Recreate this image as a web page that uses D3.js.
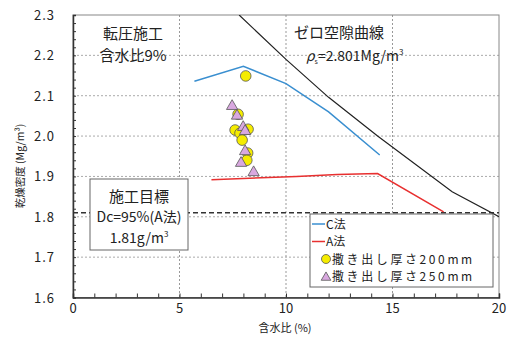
<!DOCTYPE html>
<html>
<head>
<meta charset="utf-8">
<script src="https://cdn.jsdelivr.net/npm/d3@7/dist/d3.min.js"></script>
<style>
  body { margin: 0; background: #fff; }
  svg text { font-family: "Noto Sans CJK JP", "Noto Sans", sans-serif; fill: #222; }
</style>
</head>
<body>
<svg id="chart" width="518" height="338"></svg>
<script>
// Compaction curves (water content %, dry density Mg/m3)
const cMethodW = [5.7, 8.0, 10.0, 12.0, 14.4];
const cMethodRho = [2.136, 2.173, 2.130, 2.060, 1.953];
const aMethodW = [6.5, 10.5, 12.4, 14.3, 17.4];
const aMethodRho = [1.892, 1.900, 1.905, 1.907, 1.812];
// Zero air void curve, rho_s = 2.801
const zavW = [7.8, 10.0, 12.0, 14.3, 17.8, 20.0];
const zavRho = [2.300, 2.190, 2.096, 2.000, 1.862, 1.800];
// Field measurements
const lift200W = [8.11, 7.75, 7.61, 7.84, 8.22, 7.94, 8.20, 8.16];
const lift200Rho = [2.149, 2.054, 2.015, 2.007, 2.017, 1.990, 1.958, 1.940];
const lift250W = [7.47, 7.70, 7.99, 8.08, 8.08, 7.89, 8.48];
const lift250Rho = [2.074, 2.050, 2.022, 2.012, 1.962, 1.933, 1.910];
// Target density
const targetRho = 1.81;
const xTicks = [0, 5, 10, 15, 20];
const yTicks = [1.6, 1.7, 1.8, 1.9, 2.0, 2.1, 2.2, 2.3];
const legendLabels = ["C法", "A法", "撒き出し厚さ200mm", "撒き出し厚さ250mm"];

const svg = d3.select("#chart");
const x = d3.scaleLinear().domain([0, 20]).range([73, 499]);
const y = d3.scaleLinear().domain([1.6, 2.3]).range([297.5, 15]);

svg.append("defs").append("clipPath").attr("id", "plotClip")
  .append("rect").attr("x", 73).attr("y", 15).attr("width", 426).attr("height", 282.5);

// grid
const grid = svg.append("g");
grid.selectAll("line.gy").data([1.7, 1.8, 1.9, 2.0, 2.1, 2.2]).join("line")
  .attr("x1", 73).attr("x2", 499).attr("y1", d => y(d)).attr("y2", d => y(d))
  .attr("stroke", "#aaa").attr("stroke-width", 1).attr("stroke-dasharray", "2,2");
grid.selectAll("line.gx").data([5, 10, 15]).join("line")
  .attr("y1", 15).attr("y2", 297.5).attr("x1", d => x(d)).attr("x2", d => x(d))
  .attr("stroke", "#999").attr("stroke-width", 1).attr("stroke-dasharray", "2,2");

// frame
svg.append("rect").attr("x", 73).attr("y", 15).attr("width", 426).attr("height", 282.5)
  .attr("fill", "none").attr("stroke", "#888").attr("stroke-width", 1);

// axes
const xAxis = svg.append("g").attr("transform", "translate(0,297.5)")
  .call(d3.axisBottom(x).tickValues(d3.range(0, 20.01, 1)).tickSize(-4).tickFormat(""));
const yAxis = svg.append("g").attr("transform", "translate(73,0)")
  .call(d3.axisLeft(y).tickValues(d3.range(1.6, 2.301, 0.02)).tickSize(-3).tickFormat(""));
[xAxis, yAxis].forEach(a => {
  a.select(".domain").attr("stroke", "#333").attr("stroke-width", 1.5);
  a.selectAll(".tick line").attr("stroke", "#333");
});

svg.append("g").selectAll("text").data(xTicks).join("text")
  .attr("x", d => x(d)).attr("y", 313).attr("text-anchor", "middle")
  .attr("font-size", 13).text(d => d);
svg.append("g").selectAll("text").data(yTicks).join("text")
  .attr("x", 55).attr("y", d => y(d) + 5).attr("text-anchor", "end")
  .attr("font-size", 13).attr("letter-spacing", 1).text(d => d.toFixed(1));

svg.append("text").attr("x", 285).attr("y", 332).attr("text-anchor", "middle")
  .attr("font-size", 11).text("含水比 (%)");
svg.append("text").attr("transform", "translate(24,166) rotate(-90)")
  .attr("text-anchor", "middle").attr("font-size", 10.5).text("乾燥密度 (Mg/m³)");

const plot = svg.append("g").attr("clip-path", "url(#plotClip)");
const line = d3.line().x(d => x(d[0])).y(d => y(d[1]));

// target line
plot.append("line").attr("x1", 73).attr("x2", 499)
  .attr("y1", y(targetRho)).attr("y2", y(targetRho))
  .attr("stroke", "#333").attr("stroke-width", 1.5).attr("stroke-dasharray", "5,3");

plot.append("path").datum(d3.zip(zavW, zavRho)).attr("d", line)
  .attr("fill", "none").attr("stroke", "#222").attr("stroke-width", 1.2);
plot.append("path").datum(d3.zip(cMethodW, cMethodRho)).attr("d", line)
  .attr("fill", "none").attr("stroke", "#3a8fd0").attr("stroke-width", 1.5);
plot.append("path").datum(d3.zip(aMethodW, aMethodRho)).attr("d", line)
  .attr("fill", "none").attr("stroke", "#e83030").attr("stroke-width", 1.5);

const tri = d3.symbol().type(d3.symbolTriangle).size(55);
plot.selectAll("circle.p200").data(d3.zip(lift200W, lift200Rho)).join("circle")
  .attr("cx", d => x(d[0])).attr("cy", d => y(d[1])).attr("r", 5.3)
  .attr("fill", "#f5ec00").attr("stroke", "#555").attr("stroke-width", 0.8);
plot.selectAll("path.p250").data(d3.zip(lift250W, lift250Rho)).join("path")
  .attr("transform", d => `translate(${x(d[0])},${y(d[1])})`).attr("d", tri)
  .attr("fill", "#d9a8e0").attr("stroke", "#555").attr("stroke-width", 0.8);

// annotations
svg.append("text").attr("x", 133).attr("y", 39).attr("text-anchor", "middle")
  .attr("font-size", 15).text("転圧施工");
svg.append("text").attr("x", 133).attr("y", 61).attr("text-anchor", "middle")
  .attr("font-size", 15).text("含水比9%");
svg.append("text").attr("x", 294).attr("y", 38).attr("font-size", 15).text("ゼロ空隙曲線");
const rhoText = svg.append("text").attr("x", 306).attr("y", 61).attr("font-size", 14);
rhoText.append("tspan").attr("font-style", "italic").text("ρ");
rhoText.append("tspan").attr("font-size", 7).attr("dy", 3).text("s");
rhoText.append("tspan").attr("dy", -3).text("=2.801Mg/m");
rhoText.append("tspan").attr("font-size", 8).attr("dy", -6).text("3");

// target box
svg.append("rect").attr("x", 90).attr("y", 179).attr("width", 98).attr("height", 71)
  .attr("fill", "#fff").attr("stroke", "#666").attr("stroke-width", 1);
svg.append("text").attr("x", 139).attr("y", 202).attr("text-anchor", "middle")
  .attr("font-size", 15).text("施工目標");
svg.append("text").attr("x", 139).attr("y", 222).attr("text-anchor", "middle")
  .attr("font-size", 14).text("Dc=95%(A法)");
const tgt = svg.append("text").attr("x", 139).attr("y", 243).attr("text-anchor", "middle")
  .attr("font-size", 14);
tgt.append("tspan").text("1.81g/m");
tgt.append("tspan").attr("font-size", 8).attr("dy", -6).text("3");

// legend
const lg = svg.append("g");
lg.append("rect").attr("x", 310).attr("y", 214).attr("width", 183).attr("height", 73)
  .attr("fill", "#fff").attr("stroke", "#666").attr("stroke-width", 1);
const rowsY = [224, 241.5, 259, 276.5];
lg.append("line").attr("x1", 312).attr("x2", 325).attr("y1", rowsY[0]).attr("y2", rowsY[0])
  .attr("stroke", "#3a8fd0").attr("stroke-width", 1.5);
lg.append("line").attr("x1", 312).attr("x2", 325).attr("y1", rowsY[1]).attr("y2", rowsY[1])
  .attr("stroke", "#e83030").attr("stroke-width", 1.5);
lg.append("circle").attr("cx", 326).attr("cy", rowsY[2]).attr("r", 4.5)
  .attr("fill", "#f5ec00").attr("stroke", "#555").attr("stroke-width", 0.8);
lg.append("path").attr("transform", `translate(326,${rowsY[3] + 1})`)
  .attr("d", d3.symbol().type(d3.symbolTriangle).size(40))
  .attr("fill", "#d9a8e0").attr("stroke", "#555").attr("stroke-width", 0.8);
lg.selectAll("text").data(legendLabels).join("text")
  .attr("x", (d, i) => i < 2 ? 326 : 332).attr("y", (d, i) => rowsY[i] + 4.5)
  .attr("font-size", 12)
  .attr("letter-spacing", (d, i) => i < 2 ? 0 : 2.6)
  .text(d => d);
</script>
</body>
</html>
